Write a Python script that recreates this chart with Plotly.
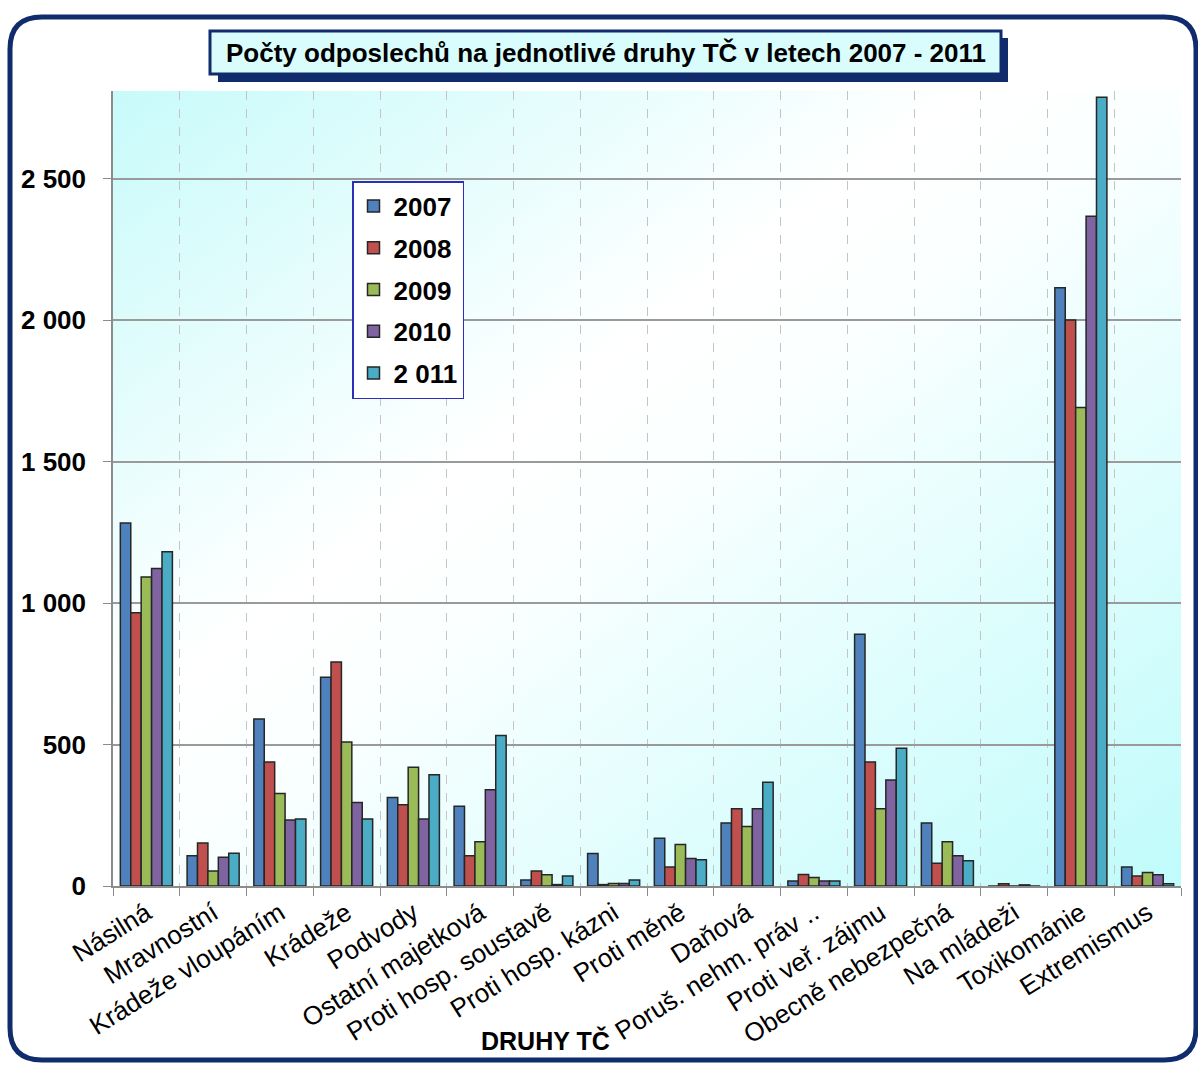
import base64
import plotly.graph_objects as go

categories = [
    "Násilná", "Mravnostní", "Krádeže vloupáním", "Krádeže", "Podvody",
    "Ostatní majetková", "Proti hosp. soustavě", "Proti hosp. kázni",
    "Proti měně", "Daňová", "Poruš. nehm. práv ..", "Proti veř. zájmu",
    "Obecně nebezpečná", "Na mládeži", "Toxikománie", "Extremismus",
]
series_names = ["2007", "2008", "2009", "2010", "2 011"]
y2007 = [1283, 107, 590, 738, 313, 282, 21, 115, 169, 223, 18, 890, 223, 0, 2115, 67]
y2008 = [966, 152, 438, 792, 287, 107, 53, 5, 67, 273, 41, 438, 80, 8, 2001, 35]
y2009 = [1092, 53, 327, 509, 420, 156, 40, 9, 147, 210, 30, 273, 156, 0, 1691, 48]
y2010 = [1122, 102, 233, 295, 237, 340, 5, 9, 97, 273, 18, 375, 107, 4, 2367, 40]
y2011 = [1181, 116, 237, 237, 393, 532, 35, 21, 93, 367, 18, 487, 89, 0, 2788, 8]
tick_vals = [0, 500, 1000, 1500, 2000, 2500]
tick_text = ["0", "500", "1 000", "1 500", "2 000", "2 500"]

colors = ["#4f81bd", "#c0504d", "#9bbb59", "#8064a2", "#4bacc6"]
navy = "#102c6c"
FONT = "Liberation Sans, Arial, sans-serif"

# figure / plot area geometry in pixels
W, H = 1198, 1066
L, R, T, B = 113, 17, 91, 180
PW, PH = W - L - R, H - T - B


def px(x):
    return (x - L) / PW


def py(y):
    return (H - B - y) / PH


fig = go.Figure()
for name, vals, col in zip(series_names, [y2007, y2008, y2009, y2010, y2011], colors):
    fig.add_trace(go.Bar(
        x=categories, y=vals, name=name, legendgroup=name,
        marker=dict(color=col, line=dict(color="#262626", width=1.5)),
    ))

# gradient background of plot area
svg = (
    "<svg xmlns='http://www.w3.org/2000/svg' width='1068' height='795' preserveAspectRatio='none'>"
    "<defs><linearGradient id='g' x1='0' y1='0' x2='1' y2='1'>"
    "<stop offset='0' stop-color='#c8fafa'/>"
    "<stop offset='0.4' stop-color='#ffffff'/>"
    "<stop offset='0.5' stop-color='#fbffff'/>"
    "<stop offset='1' stop-color='#c0fbfb'/>"
    "</linearGradient></defs><rect width='1068' height='795' fill='url(#g)'/></svg>"
)
fig.add_layout_image(
    source="data:image/svg+xml;base64," + base64.b64encode(svg.encode()).decode(),
    xref="paper", yref="paper", x=0, y=1, sizex=1, sizey=1,
    sizing="stretch", layer="below", xanchor="left", yanchor="top",
)

# outer rounded frame
x0, y0, x1, y1, r = 10, 17, 1196, 1060, 32
path = (
    f"M {px(x0)},{py(y0 + r)} Q {px(x0)},{py(y0)} {px(x0 + r)},{py(y0)} "
    f"L {px(x1 - r)},{py(y0)} Q {px(x1)},{py(y0)} {px(x1)},{py(y0 + r)} "
    f"L {px(x1)},{py(y1 - r)} Q {px(x1)},{py(y1)} {px(x1 - r)},{py(y1)} "
    f"L {px(x0 + r)},{py(y1)} Q {px(x0)},{py(y1)} {px(x0)},{py(y1 - r)} Z"
)
fig.add_shape(type="path", path=path, xref="paper", yref="paper",
              line=dict(color=navy, width=5), layer="above")

# title box with shadow
fig.add_shape(type="rect", xref="paper", yref="paper",
              x0=px(218), x1=px(1008), y0=py(38), y1=py(82),
              fillcolor=navy, line=dict(width=0))
fig.add_shape(type="rect", xref="paper", yref="paper",
              x0=px(210), x1=px(1001), y0=py(31), y1=py(74),
              fillcolor="#d9fdfd", line=dict(color=navy, width=3))
fig.add_annotation(
    text="<b>Počty odposlechů na jednotlivé druhy TČ v letech 2007 - 2011</b>",
    xref="paper", yref="paper", x=px(606), y=py(53),
    xanchor="center", yanchor="middle", showarrow=False,
    font=dict(family=FONT, size=26, color="black"),
)
fig.add_annotation(
    text="<b>DRUHY TČ</b>", xref="paper", yref="paper",
    x=px(545), y=py(1040), xanchor="center", yanchor="middle", showarrow=False,
    font=dict(family=FONT, size=25, color="black"),
)

fig.update_layout(
    width=W, height=H,
    margin=dict(l=L, r=R, t=T, b=B),
    paper_bgcolor="white", plot_bgcolor="rgba(0,0,0,0)",
    font=dict(family=FONT, color="black"),
    barmode="group", bargap=0.22, bargroupgap=0,
    showlegend=True,
    legend=dict(
        x=px(352), y=py(181), xanchor="left", yanchor="top",
        bgcolor="white", bordercolor="#2e2eb8", borderwidth=1.5,
        font=dict(family=FONT, size=26, color="black", weight="bold"),
        tracegroupgap=5, traceorder="grouped", itemwidth=30,
    ),
)
fig.update_xaxes(
    tickangle=-32, tickfont=dict(size=26, color="black"),
    ticks="outside", tickson="boundaries", ticklen=8, tickcolor="#8c8c8c",
    showline=True, linecolor="#8c8c8c", linewidth=1.5,
    showgrid=True, gridcolor="#c4c4c4", griddash="dash", gridwidth=1,
)
fig.update_yaxes(
    range=[0, 2810], tickvals=tick_vals, ticktext=tick_text,
    tickfont=dict(size=26, color="black", weight="bold"),
    ticks="outside", ticklen=8, tickcolor="#8c8c8c", ticklabelstandoff=12,
    showline=True, linecolor="#8c8c8c", linewidth=1.5,
    showgrid=True, gridcolor="#9a9a9a", gridwidth=1.5, zeroline=False,
)

fig.write_html("out.html", config={"displayModeBar": False},
               post_script="document.body.style.margin='0';")
